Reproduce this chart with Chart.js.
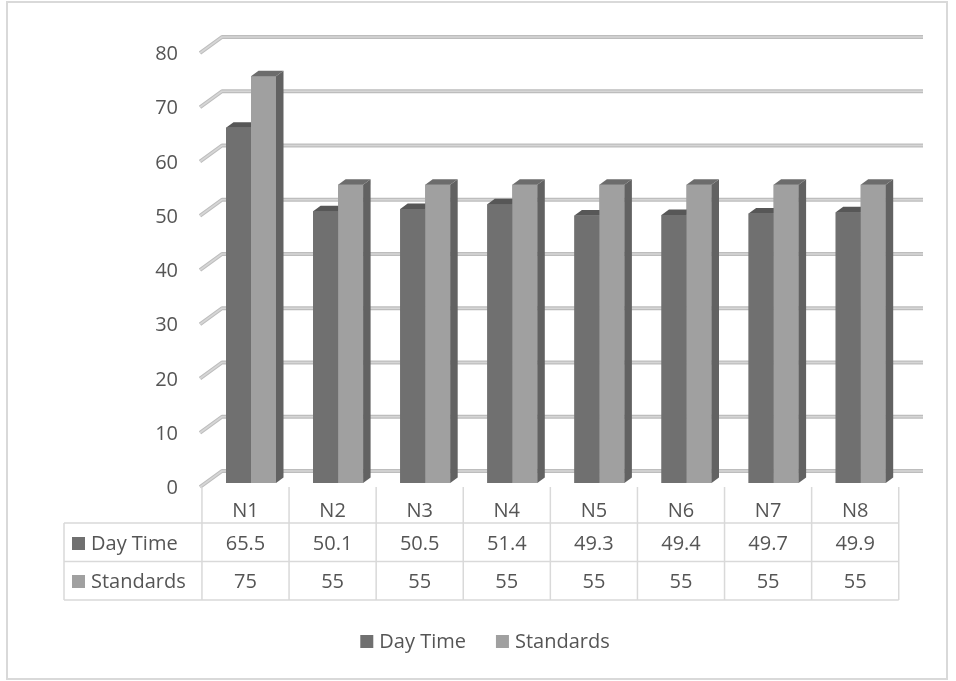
<!DOCTYPE html>
<html>
<head>
<meta charset="utf-8">
<script src="https://cdn.jsdelivr.net/npm/chart.js@4/dist/chart.umd.min.js"></script>
<style>
  html, body { margin: 0; padding: 0; background: #ffffff; }
  #wrap { width: 956px; height: 681px; }
</style>
</head>
<body>
<div id="wrap"><canvas id="chart" width="956" height="681"></canvas></div>
<script>
// Noise levels per station (dB), daytime measurements vs. the applicable standard
const categories = ['N1', 'N2', 'N3', 'N4', 'N5', 'N6', 'N7', 'N8'];
const dayTime = [65.5, 50.1, 50.5, 51.4, 49.3, 49.4, 49.7, 49.9];
const standards = [75, 55, 55, 55, 55, 55, 55, 55];
const seriesNames = ['Day Time', 'Standards'];
const yTickLabels = ['0', '10', '20', '30', '40', '50', '60', '70', '80'];

const FONT = '20px "Open Sans", "Noto Sans", sans-serif';
const TEXT = '#555555';
const LINE = '#d9d9d9';

// front / top / side shades for each series
const shades = [
  { front: '#707070', top: '#575757', side: '#5a5a5a' },
  { front: '#a0a0a0', top: '#6c6c6c', side: '#626262' }
];

// pseudo-3D geometry
const BAR_DX = 7.5, BAR_DY = -5.5;     // depth of each column
const WALL_DY = -12;                    // back wall gridline offset from the bar front
const FLOOR_DY = 4;                     // front edge of floor below the bar base
const WALL_LEFT = 222, FLOOR_LEFT = 200, WALL_RIGHT = 923;
const TABLE_SHIFT = -5.5;               // table columns vs. category bands
const TABLE_LEFT = 64;

const threeD = {
  id: 'threeD',
  beforeDatasetsDraw(chart) {
    const { ctx } = chart;
    const y = chart.scales.y;
    ctx.save();
    yTickLabels.forEach(lbl => {
      const py = y.getPixelForValue(Number(lbl));
      const back = py + WALL_DY, front = py + FLOOR_DY;
      ctx.beginPath();
      ctx.moveTo(FLOOR_LEFT, front);
      ctx.lineTo(WALL_LEFT, back);
      ctx.lineTo(WALL_RIGHT, back);
      ctx.lineJoin = 'round';
      ctx.lineCap = 'butt';
      ctx.strokeStyle = '#bdbdbd';
      ctx.lineWidth = 4;
      ctx.stroke();
      ctx.strokeStyle = '#d6d6d6';
      ctx.lineWidth = 1.6;
      ctx.stroke();
      // axis label at the floor front
      ctx.fillStyle = TEXT;
      ctx.font = FONT;
      ctx.textAlign = 'right';
      ctx.textBaseline = 'alphabetic';
      ctx.fillText(lbl, 178, front + 7);
    });
    ctx.restore();
  },
  afterDatasetsDraw(chart) {
    const { ctx } = chart;
    const metas = [chart.getDatasetMeta(0), chart.getDatasetMeta(1)];
    ctx.save();
    for (let i = 0; i < categories.length; i++) {
      metas.forEach((meta, d) => {
        const bar = meta.data[i];
        const p = bar.getProps(['x', 'y', 'base', 'width'], true);
        const x0 = p.x - p.width / 2, x1 = p.x + p.width / 2;
        const top = p.y, base = p.base;
        const s = shades[d];
        // front
        ctx.fillStyle = s.front;
        ctx.fillRect(x0, top, x1 - x0, base - top);
        // side
        ctx.beginPath();
        ctx.moveTo(x1, top);
        ctx.lineTo(x1 + BAR_DX, top + BAR_DY);
        ctx.lineTo(x1 + BAR_DX, base + BAR_DY);
        ctx.lineTo(x1, base);
        ctx.closePath();
        ctx.fillStyle = s.side;
        ctx.fill();
        // top
        ctx.beginPath();
        ctx.moveTo(x0, top);
        ctx.lineTo(x1, top);
        ctx.lineTo(x1 + BAR_DX, top + BAR_DY);
        ctx.lineTo(x0 + BAR_DX, top + BAR_DY);
        ctx.closePath();
        ctx.fillStyle = s.top;
        ctx.fill();
      });
    }
    ctx.restore();
  },
  afterDraw(chart) {
    const { ctx, chartArea } = chart;
    const x = chart.scales.x, y = chart.scales.y;
    const band = (chartArea.right - chartArea.left) / categories.length;
    const colLeft = i => x.getPixelForValue(i) - band / 2 + TABLE_SHIFT;
    const tableRight = colLeft(categories.length);
    const rowTop = y.getPixelForValue(0) + FLOOR_DY;
    const rows = [rowTop, rowTop + 36, rowTop + 74.5, rowTop + 113];
    const baselines = [rows[1] - 6, rows[2] - 11.5, rows[3] - 12];
    ctx.save();
    ctx.strokeStyle = LINE;
    ctx.lineWidth = 1.5;
    ctx.beginPath();
    // horizontal rules
    for (let r = 1; r < rows.length; r++) {
      ctx.moveTo(TABLE_LEFT, rows[r]);
      ctx.lineTo(tableRight, rows[r]);
    }
    // vertical rules
    for (let i = 0; i <= categories.length; i++) {
      const cx = colLeft(i);
      ctx.moveTo(cx, rows[0]);
      ctx.lineTo(cx, rows[3]);
    }
    ctx.moveTo(TABLE_LEFT, rows[1]);
    ctx.lineTo(TABLE_LEFT, rows[3]);
    ctx.stroke();

    ctx.font = FONT;
    ctx.fillStyle = TEXT;
    ctx.textBaseline = 'alphabetic';
    ctx.textAlign = 'center';
    const rowsData = [categories, dayTime.map(String), standards.map(String)];
    rowsData.forEach((vals, r) => {
      vals.forEach((v, i) => {
        ctx.fillText(v, colLeft(i) + band / 2, baselines[r]);
      });
    });
    // series keys in the table
    ctx.textAlign = 'left';
    seriesNames.forEach((name, d) => {
      const bl = baselines[d + 1];
      ctx.fillStyle = shades[d].front;
      ctx.fillRect(72, bl - 13, 13, 13);
      ctx.fillStyle = TEXT;
      ctx.fillText(name, 91, bl);
    });

    // legend
    const box = 13, gap = 6, itemGap = 30;
    const widths = seriesNames.map(n => box + gap + ctx.measureText(n).width);
    const total = widths[0] + itemGap + widths[1];
    let lx = 485 - total / 2;
    const lb = 648;
    seriesNames.forEach((name, d) => {
      ctx.fillStyle = shades[d].front;
      ctx.fillRect(lx, lb - 13, box, box);
      ctx.fillStyle = TEXT;
      ctx.fillText(name, lx + box + gap, lb);
      lx += widths[d] + itemGap;
    });

    // chart frame
    ctx.strokeStyle = '#d9d9d9';
    ctx.lineWidth = 2;
    ctx.strokeRect(7, 2, 940, 677);
    ctx.restore();
  }
};

new Chart(document.getElementById('chart'), {
  type: 'bar',
  data: {
    labels: categories,
    datasets: [
      { label: seriesNames[0], data: dayTime, backgroundColor: shades[0].front, borderWidth: 0 },
      { label: seriesNames[1], data: standards, backgroundColor: shades[1].front, borderWidth: 0 }
    ]
  },
  options: {
    responsive: false,
    animation: false,
    layout: { padding: { left: 207.45, right: 51.75, top: 49, bottom: 198 } },
    datasets: { bar: { categoryPercentage: 0.574, barPercentage: 1 } },
    scales: {
      x: { display: false, offset: true },
      y: { display: false, min: 0, max: 80, ticks: { stepSize: 10 } }
    },
    plugins: { legend: { display: false }, tooltip: { enabled: false } }
  },
  plugins: [threeD]
});
</script>
</body>
</html>
